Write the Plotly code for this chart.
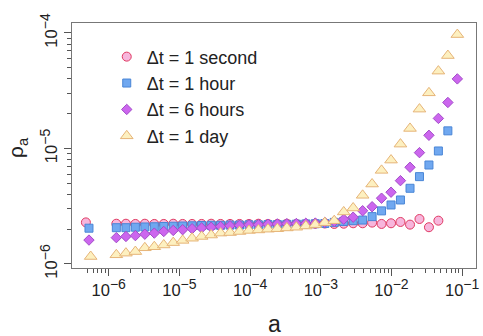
import plotly.graph_objects as go

# bin centres (a)
a_bins = [1.28e-6, 1.75e-6, 2.38e-6, 3.24e-6, 4.41e-6, 6.00e-6, 8.17e-6, 1.11e-5,
          1.51e-5, 2.06e-5, 2.81e-5, 3.82e-5, 5.20e-5, 7.08e-5, 9.64e-5, 1.31e-4,
          1.79e-4, 2.43e-4, 3.31e-4, 4.51e-4, 6.14e-4, 8.36e-4, 1.14e-3, 1.55e-3,
          2.11e-3, 2.87e-3, 3.91e-3, 5.32e-3, 7.24e-3, 9.86e-3, 1.34e-2, 1.83e-2,
          2.49e-2, 3.39e-2, 4.61e-2, 6.28e-2, 8.55e-2]

# Δt = 1 second
a_sec = [4.75e-7] + a_bins[:35]
rho_sec = [2.29e-6, 2.23e-6, 2.23e-6, 2.22e-6, 2.23e-6, 2.22e-6, 2.22e-6, 2.23e-6, 2.22e-6,
           2.22e-6, 2.22e-6, 2.23e-6, 2.22e-6, 2.22e-6, 2.22e-6, 2.22e-6, 2.23e-6,
           2.22e-6, 2.22e-6, 2.23e-6, 2.22e-6, 2.22e-6, 2.23e-6, 2.24e-6, 2.22e-6,
           2.23e-6, 2.25e-6, 2.25e-6, 2.28e-6, 2.22e-6, 2.25e-6, 2.31e-6, 2.19e-6,
           2.45e-6, 2.08e-6, 2.37e-6]

# Δt = 1 hour
a_hour = [5.25e-7] + a_bins[:36]
rho_hour = [2.04e-6, 2.06e-6, 2.06e-6, 2.08e-6, 2.09e-6, 2.10e-6, 2.11e-6, 2.12e-6, 2.13e-6,
            2.14e-6, 2.15e-6, 2.16e-6, 2.16e-6, 2.17e-6, 2.17e-6, 2.18e-6, 2.18e-6,
            2.19e-6, 2.19e-6, 2.20e-6, 2.21e-6, 2.22e-6, 2.23e-6, 2.24e-6, 2.29e-6,
            2.33e-6, 2.37e-6, 2.40e-6, 2.57e-6, 2.88e-6, 3.24e-6, 3.58e-6, 4.52e-6,
            5.70e-6, 7.19e-6, 9.51e-6, 1.42e-5]

# Δt = 6 hours
a_6h = [5.25e-7] + a_bins
rho_6h = [1.61e-6, 1.69e-6, 1.73e-6, 1.76e-6, 1.81e-6, 1.85e-6, 1.91e-6, 1.95e-6, 1.98e-6,
          2.02e-6, 2.05e-6, 2.08e-6, 2.11e-6, 2.14e-6, 2.16e-6, 2.18e-6, 2.19e-6,
          2.21e-6, 2.22e-6, 2.23e-6, 2.24e-6, 2.25e-6, 2.26e-6, 2.29e-6, 2.33e-6,
          2.44e-6, 2.54e-6, 2.89e-6, 3.13e-6, 3.71e-6, 4.18e-6, 5.26e-6, 6.87e-6,
          9.20e-6, 1.30e-5, 1.82e-5, 2.50e-5, 4.00e-5]

# Δt = 1 day
a_day = [5.55e-7] + a_bins
rho_day = [1.16e-6, 1.20e-6, 1.24e-6, 1.28e-6, 1.38e-6, 1.41e-6, 1.46e-6, 1.53e-6, 1.60e-6,
           1.67e-6, 1.73e-6, 1.78e-6, 1.85e-6, 1.87e-6, 1.91e-6, 1.95e-6, 1.97e-6,
           2.00e-6, 2.02e-6, 2.05e-6, 2.08e-6, 2.13e-6, 2.19e-6, 2.28e-6, 2.37e-6,
           2.82e-6, 3.05e-6, 3.93e-6, 4.92e-6, 6.46e-6, 7.93e-6, 1.09e-5, 1.49e-5,
           2.19e-5, 3.03e-5, 4.67e-5, 6.37e-5, 9.68e-5]

x_major = [1e-6, 1e-5, 1e-4, 1e-3, 1e-2, 1e-1]
x_exps = ["−6", "−5", "−4", "−3", "−2", "−1"]
y_major = [1e-6, 1e-5, 1e-4]
y_exps = ["−6", "−5", "−4"]


def pow_label(e):
    return "10<sup><span style='font-size:14px'>" + e + "</span></sup>"


x_labels = [pow_label(e) for e in x_exps]
y_labels = [pow_label(e) for e in y_exps]

x_minor = [m * 10.0 ** e for e in range(-7, 0) for m in range(2, 10) if 4e-7 < m * 10.0 ** e < 0.16]
y_minor = [m * 10.0 ** e for e in range(-6, -4) for m in range(2, 10)]

FONT = "Liberation Sans, Arial, Helvetica, sans-serif"

series = [
    ("Δt = 1 second", a_sec, rho_sec, "circle", 9, "#f7b6dc", "#e03a62"),
    ("Δt = 1 hour", a_hour, rho_hour, "square", 8, "#70a8f0", "#4a86d6"),
    ("Δt = 6 hours", a_6h, rho_6h, "diamond", 8, "#cc66ee", "#a24cc8"),
    ("Δt = 1 day", a_day, rho_day, "triangle-up", 11, "#fdf0c0", "#e6b478"),
]

fig = go.Figure()
for name, xs, ys, sym, size, fill, edge in series:
    fig.add_trace(go.Scatter(
        x=xs, y=ys, mode="markers", name=name,
        marker=dict(symbol=sym, size=size, color=fill, line=dict(color=edge, width=1)),
    ))

axis_common = dict(
    type="log", showgrid=False, zeroline=False, showline=True, mirror=True,
    linecolor="#777", linewidth=1.2, ticks="outside", ticklen=7, tickwidth=1,
    tickcolor="#555", tickfont=dict(family=FONT, size=16.5, color="#222"),
)

fig.update_layout(
    width=483, height=336,
    margin=dict(l=72, r=4, t=23, b=68),
    paper_bgcolor="white", plot_bgcolor="white",
    font=dict(family=FONT, color="#222"),
    showlegend=True,
    legend=dict(x=0.086, y=0.937, xanchor="left", yanchor="top",
                font=dict(family=FONT, size=18, color="#222"),
                bgcolor="rgba(0,0,0,0)", tracegroupgap=0),
    xaxis=dict(axis_common, range=[-6.52, -0.804], tickmode="array",
               tickvals=x_major, ticktext=x_labels,
               minor=dict(tickmode="array", tickvals=x_minor, ticks="outside",
                          ticklen=4, tickcolor="#555", showgrid=False)),
    yaxis=dict(axis_common, range=[-6.035, -3.914], tickmode="array",
               tickvals=y_major, ticktext=y_labels, tickangle=-90,
               minor=dict(tickmode="array", tickvals=y_minor, ticks="outside",
                          ticklen=4, tickcolor="#555", showgrid=False)),
    annotations=[
        dict(text="a", xref="paper", yref="paper", x=0.5, y=-0.228,
             xanchor="center", yanchor="middle", showarrow=False,
             font=dict(family=FONT, size=23, color="#222")),
        dict(text="ρ<sub>a</sub>", xref="paper", yref="paper", x=-0.136, y=0.49,
             xanchor="center", yanchor="middle", showarrow=False, textangle=-90,
             font=dict(family=FONT, size=21, color="#222")),
    ],
)

fig.write_html("out.html")
